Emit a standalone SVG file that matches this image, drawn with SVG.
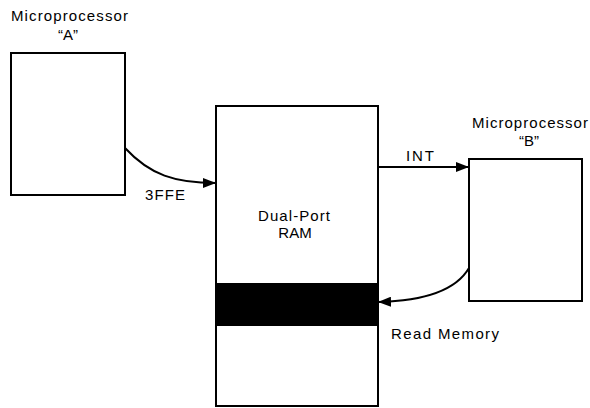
<svg xmlns="http://www.w3.org/2000/svg" width="590" height="408" viewBox="0 0 590 408">
<style>
.box{fill:#fff;stroke:#000;stroke-width:2}
.lbl{font-family:"Liberation Sans",Arial,sans-serif;font-size:15px;fill:#000}
.conn{fill:none;stroke:#000;stroke-width:2}
</style>
<defs>
<marker id="ah" markerUnits="userSpaceOnUse" markerWidth="14" markerHeight="10" refX="13" refY="5" orient="auto">
<path d="M0,0 L13,5 L0,10 Z" fill="#000"/>
</marker>
</defs>
<rect width="590" height="408" fill="#fff"/>
<g id="cpuA">
<rect class="box" x="11" y="53" width="114" height="142"/>
<text class="lbl" x="11" y="21" textLength="117" lengthAdjust="spacing">Microprocessor</text>
<text class="lbl" x="68" y="40" text-anchor="middle">“A”</text>
</g>
<g id="ram">
<rect class="box" x="216" y="106" width="162" height="300"/>
<rect x="216" y="283" width="162" height="43" fill="#000"/>
<text class="lbl" x="294" y="221" text-anchor="middle" textLength="72" lengthAdjust="spacing">Dual-Port</text>
<text class="lbl" x="295" y="238" text-anchor="middle">RAM</text>
</g>
<g id="cpuB">
<rect class="box" x="469" y="159" width="113" height="142"/>
<text class="lbl" x="472" y="128" textLength="116" lengthAdjust="spacing">Microprocessor</text>
<text class="lbl" x="529" y="146" text-anchor="middle">“B”</text>
</g>
<g id="connectors">
<path class="conn" d="M125,148 C150,175 175,183 216,183" marker-end="url(#ah)"/>
<text class="lbl" x="145" y="200" textLength="40" lengthAdjust="spacing">3FFE</text>
<path class="conn" d="M378,167 L469,167" marker-end="url(#ah)"/>
<text class="lbl" x="406" y="161" textLength="28" lengthAdjust="spacing">INT</text>
<path class="conn" d="M469,268 C455,292 420,301 378,302" marker-end="url(#ah)"/>
<text class="lbl" x="391" y="339" textLength="108" lengthAdjust="spacing">Read Memory</text>
</g>
</svg>
